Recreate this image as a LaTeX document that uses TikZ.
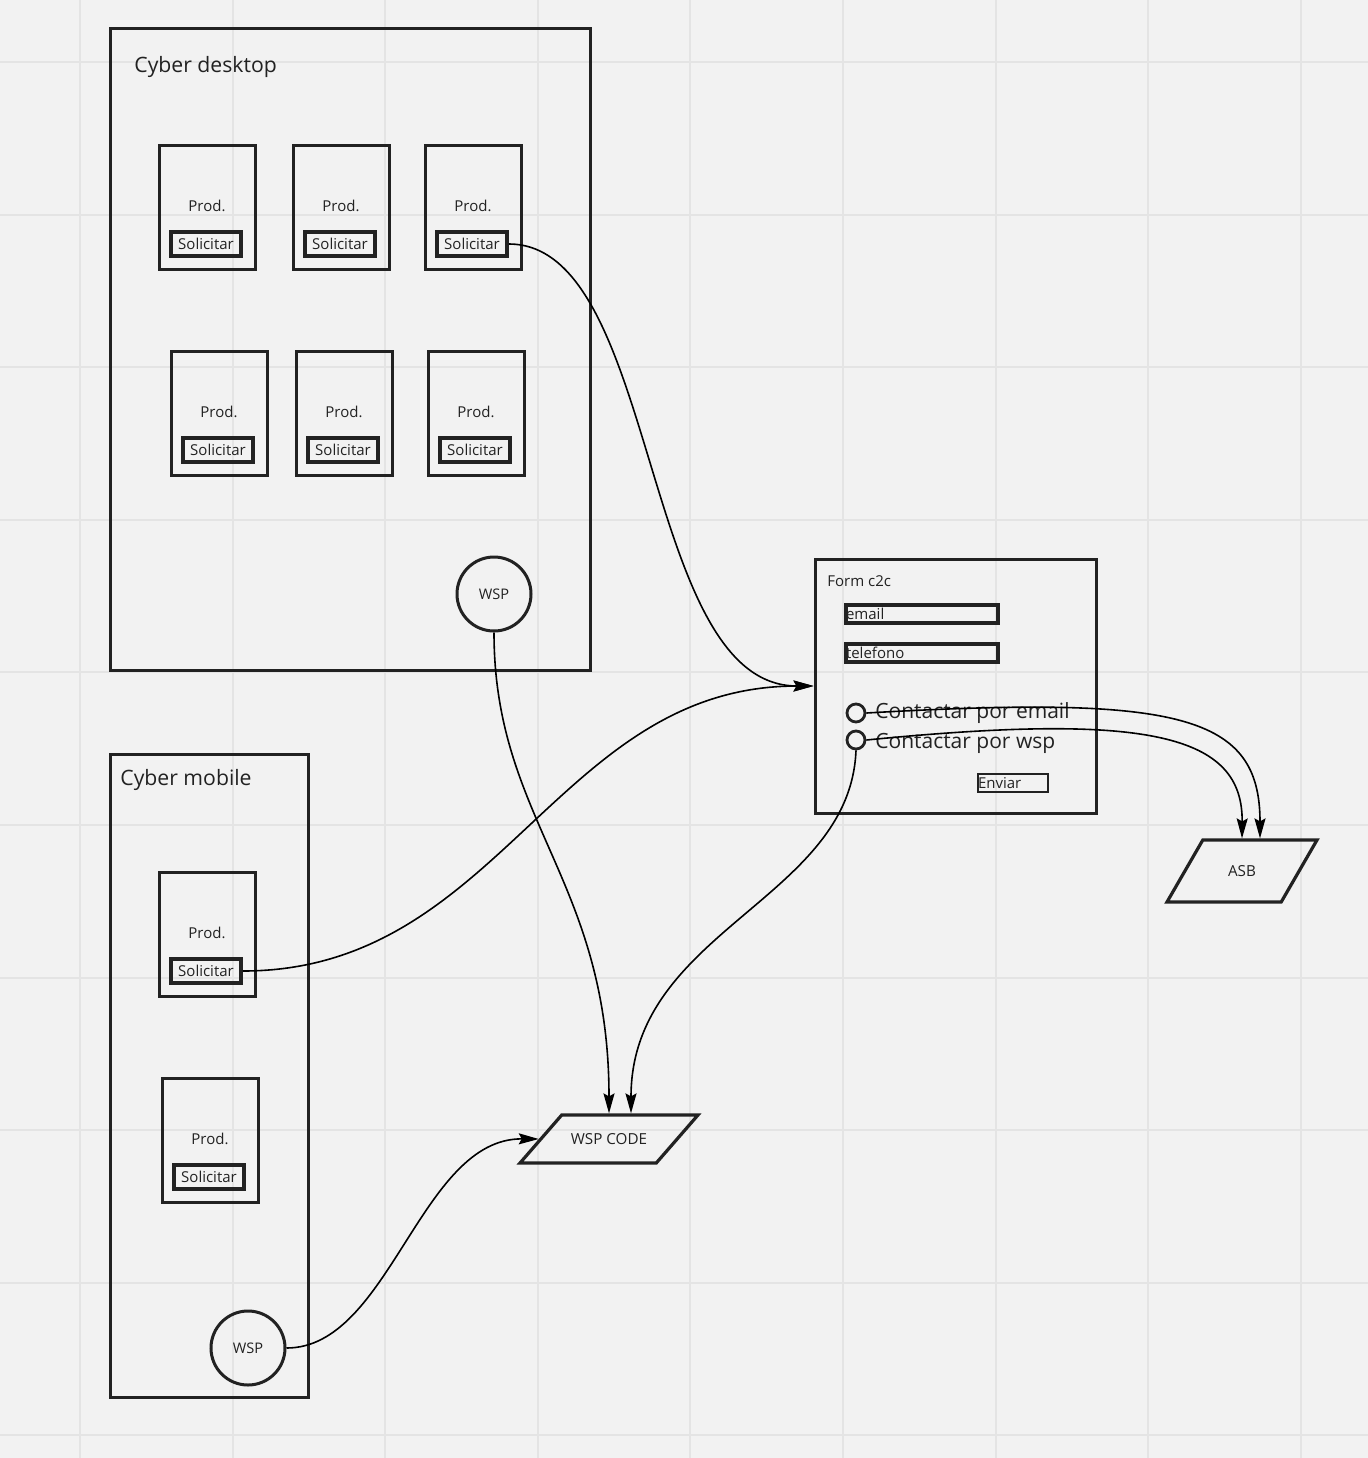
\documentclass[tikz,border=0pt]{standalone}
\usepackage{fontspec}
\setmainfont{Open Sans}
\usetikzlibrary{shapes.geometric,arrows.meta}
\definecolor{fondo}{HTML}{F2F2F2}
\definecolor{rejilla}{HTML}{E4E4E4}
\definecolor{trazo}{HTML}{222222}

\begin{document}
\begin{tikzpicture}[x=0.5pt,y=-0.5pt,text=trazo,
    marco/.style={draw=trazo, line width=1.5pt, inner sep=0pt},
    tarjeta/.style={draw=trazo, line width=1.5pt, minimum width=48pt, minimum height=62pt, inner sep=0pt},
    boton/.style={draw=trazo, line width=1.8pt, minimum width=35pt, minimum height=12pt, inner sep=0pt, font=\fontsize{7.5}{9}\selectfont},
    etiqueta/.style={inner sep=0pt, font=\fontsize{7.5}{9}\selectfont},
    titulo/.style={anchor=base west, inner sep=0pt, font=\fontsize{10.6}{13}\selectfont},
    campo/.style={draw=trazo, line width=1.6pt, text width=76pt, minimum height=9pt, inner sep=0pt, align=left, font=\fontsize{7.5}{9}\selectfont},
    redondo/.style={circle, draw=trazo, line width=1.5pt, minimum size=37pt, inner sep=0pt, font=\fontsize{7.3}{9}\selectfont},
    radio/.style={circle, draw=trazo, line width=1.4pt, minimum size=9pt, inner sep=0pt},
    datos/.style={trapezium, draw=trazo, line width=1.6pt, trapezium stretches body, inner xsep=0pt, text height=5.4pt, text depth=0pt, font=\fontsize{7.6}{9}\selectfont},
    flecha/.style={draw=black, line width=0.8pt, -{Stealth[length=10pt, width=5.5pt, inset=1.5pt]}}]

    % Fondo y cuadrícula
    \fill[fondo] (0,0) rectangle (1368,1458);
    \useasboundingbox (0,0) rectangle (1368,1458);
    \foreach \gx in {0,...,8} {
        \draw[rejilla, line width=1pt] (80+152.6*\gx,0) -- (80+152.6*\gx,1458);
    }
    \foreach \gy in {0,...,9} {
        \draw[rejilla, line width=1pt] (0,62+152.6*\gy) -- (1368,62+152.6*\gy);
    }

    % Cyber desktop
    \node[marco, minimum width=240pt, minimum height=321pt] (desk) at (350,349) {};
    \node[titulo] at (134,72) {Cyber desktop};

    % Productos (desktop y mobile)
    \foreach \n/\x/\y in {1/207/207, 2/341/207, 3/473/207, 4/219/413, 5/344/413, 6/476/413, 7/207/934, 8/210/1140} {
        \node[tarjeta] (p\n) at (\x,\y) {};
        \node[etiqueta] at (\x,\y-1) {Prod.};
        \node[boton] (s\n) at (\x-1,\y+37) {Solicitar};
    }

    % Botón WSP desktop
    \node[redondo] (wspd) at (494,594) {WSP};

    % Cyber mobile
    \node[marco, minimum width=99pt, minimum height=321.5pt] (mob) at (209,1076) {};
    \node[titulo] at (120,785) {Cyber mobile};

    % Botón WSP mobile
    \node[redondo] (wspm) at (248,1348) {WSP};

    % Formulario c2c
    \node[marco, minimum width=140.5pt, minimum height=127pt] (form) at (955.5,686) {};
    \node[etiqueta, anchor=base west] at (827,586) {Form c2c};
    \node[campo] (email) at (922,614) {email};
    \node[campo] (tel) at (922,653) {telefono};
    \node[radio] (re) at (856,713) {};
    \node[radio] (rw) at (856,740) {};
    \node[titulo, font=\fontsize{10.5}{13}\selectfont] at (875,718) {Contactar por email};
    \node[titulo, font=\fontsize{10.5}{13}\selectfont] at (875,748) {Contactar por wsp};
    \node[campo, text width=35pt, line width=1.3pt] (enviar) at (1013,783) {Enviar};

    % Destinos
    \node[datos, trapezium left angle=60, trapezium right angle=120, inner ysep=12.8pt, minimum width=75pt] (asb) at (1242,871) {ASB};
    \node[datos, trapezium left angle=49, trapezium right angle=131, inner ysep=9.3pt, minimum width=89pt] (code) at (609,1139) {WSP CODE};

    % Conexiones
    \draw[flecha] (s3.east) .. controls (660,244) and (640,686) .. (form.west);
    \draw[flecha] (s7.east) .. controls (500,971) and (556,686) .. (form.west);
    \draw[flecha] (wspd.south) .. controls (494,820) and (609,880) .. (code.north);
    \draw[flecha] (rw.south) .. controls (850,900) and (631,930) .. ([xshift=11pt]code.north);
    \draw[flecha] (wspm.east) .. controls (390,1348) and (420,1138) .. (code.west);
    \draw[flecha] (re.east) .. controls (1180,695) and (1260,715) .. ([xshift=9pt]asb.north);
    \draw[flecha] (rw.east) .. controls (1150,712) and (1243,735) .. (asb.north);
\end{tikzpicture}
\end{document}
